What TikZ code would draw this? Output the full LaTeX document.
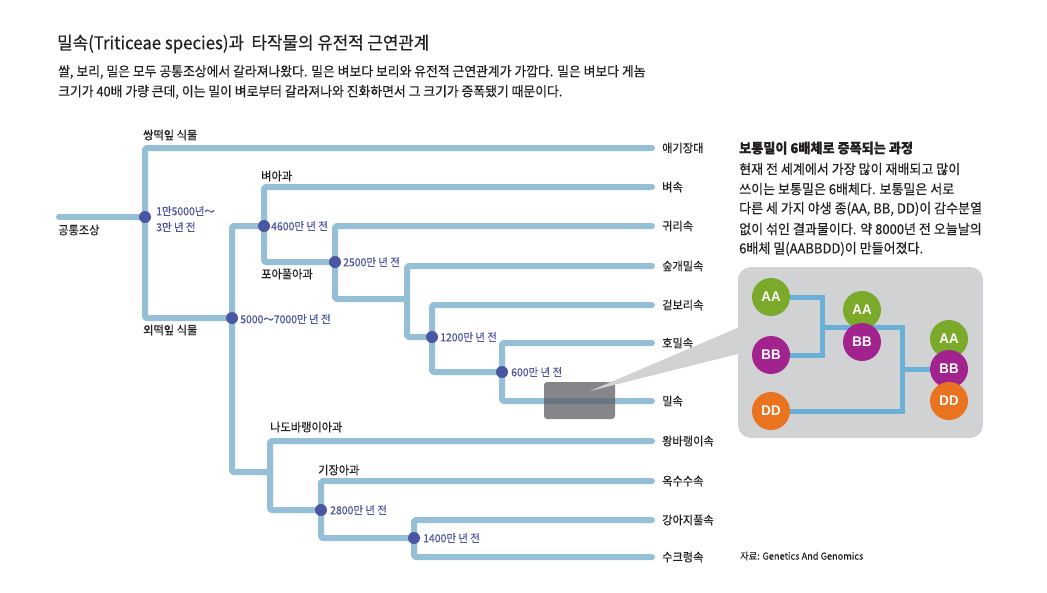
\documentclass[tikz,border=0pt]{standalone}
\usepackage{fontspec}
\setmainfont{Noto Sans CJK KR}[FakeStretch=0.95,FakeBold=0.3]
\newfontfamily\insetfont{Liberation Sans}[FakeStretch=0.95]
\definecolor{linec}{HTML}{94BFD6}
\definecolor{dotc}{HTML}{4A55A3}
\definecolor{labc}{HTML}{4A55A0}
\definecolor{txt}{HTML}{231F20}
\definecolor{boxc}{HTML}{D1D2D4}
\definecolor{inl}{HTML}{6AAFD6}
\definecolor{grn}{HTML}{7BAA2B}
\definecolor{pur}{HTML}{A3238E}
\definecolor{org}{HTML}{E9731E}
\definecolor{rectc}{HTML}{5E5D63}
\begin{document}
\begin{tikzpicture}[x=1pt,y=-1pt,
  branch/.style={draw=linec,line width=6pt,line cap=round,line join=round,rounded corners=2pt},
  dot/.style={circle,fill=dotc,inner sep=0pt,minimum size=12pt},
  lab/.style={anchor=west,inner sep=0pt,text=txt,font=\fontsize{11.8}{13}\selectfont},
  tlab/.style={anchor=west,inner sep=0pt,text=labc,font=\fontsize{11}{13}\selectfont},
  body/.style={anchor=west,inner sep=0pt,text=txt,font=\fontsize{13.7}{15}\selectfont},
  gene/.style={circle,inner sep=0pt,minimum size=38pt,text=white,font=\insetfont\bfseries\fontsize{14}{16}\selectfont},
  inline/.style={draw=inl,line width=5pt}]
\useasboundingbox (0,0) rectangle (1047,592);
\fill[white] (0,0) rectangle (1047,592);

% title and intro
\node[anchor=west,inner sep=0pt,text=txt,font=\fontsize{17.7}{20}\selectfont] (title) at (57,44) {밀속(Triticeae species)과\ \ 타작물의 유전적 근연관계};
\node[body,font=\fontsize{13.5}{15}\selectfont] (intro1) at (58,72) {쌀, 보리, 밀은 모두 공통조상에서 갈라져나왔다. 밀은 벼보다 보리와 유전적 근연관계가 가깝다. 밀은 벼보다 게놈};
\node[body,font=\fontsize{13.5}{15}\selectfont] (intro2) at (58,92) {크기가 40배 가량 큰데, 이는 밀이 벼로부터 갈라져나와 진화하면서 그 크기가 증폭됐기 때문이다.};

% coordinates
\coordinate (r0) at (59,217);
\coordinate (n1) at (145,217);
\coordinate (n2) at (232,318);
\coordinate (n3) at (264,226);
\coordinate (n4) at (335,262);
\coordinate (j2) at (407,299);
\coordinate (n5) at (432,337);
\coordinate (n6) at (502,372);
\coordinate (j1) at (270,472);
\coordinate (n8) at (321,510);
\coordinate (n9) at (414,538);
\coordinate (L1) at (652,148);
\coordinate (L2) at (652,187);
\coordinate (L3) at (652,226);
\coordinate (L4) at (652,266);
\coordinate (L5) at (652,305);
\coordinate (L6) at (652,343);
\coordinate (L7) at (652,401);
\coordinate (L8) at (652,441);
\coordinate (L9) at (652,481);
\coordinate (L10) at (652,520);
\coordinate (L11) at (652,557);

% branches
\draw[branch] (r0) -- (n1);
\draw[branch] (n1) |- (L1);
\draw[branch] (n1) |- (n2);
\draw[branch] (n2) |- (n3);
\draw[branch] (n2) |- (j1);
\draw[branch] (n3) |- (L2);
\draw[branch] (n3) |- (n4);
\draw[branch] (n4) |- (L3);
\draw[branch] (n4) |- (j2);
\draw[branch] (j2) |- (L4);
\draw[branch] (j2) |- (n5);
\draw[branch] (n5) |- (L5);
\draw[branch] (n5) |- (n6);
\draw[branch] (n6) |- (L6);
\draw[branch] (n6) |- (L7);
\draw[branch] (j1) |- (L8);
\draw[branch] (j1) |- (n8);
\draw[branch] (n8) |- (L9);
\draw[branch] (n8) |- (n9);
\draw[branch] (n9) |- (L10);
\draw[branch] (n9) |- (L11);

% dots
\foreach \n in {n1,n2,n3,n4,n5,n6,n8,n9} \node[dot] at (\n) {};

% time labels
\node[tlab] (t1a) at (156,211) {1만5000년～};
\node[tlab] (t1b) at (156,227) {3만 년 전};
\node[tlab] (t2) at (240,319) {5000～7000만 년 전};
\node[tlab] (t3) at (271,226) {4600만 년 전};
\node[tlab] (t4) at (343,262) {2500만 년 전};
\node[tlab] (t5) at (440,337) {1200만 년 전};
\node[tlab] (t6) at (511,372) {600만 년 전};
\node[tlab] (t8) at (330,510) {2800만 년 전};
\node[tlab] (t9) at (423,538) {1400만 년 전};

% group labels
\node[lab] (g0) at (58,230) {공통조상};
\node[lab] (g1) at (143,135) {쌍떡잎 식물};
\node[lab] (g2) at (143,330) {외떡잎 식물};
\node[lab] (g3) at (261,176) {벼아과};
\node[lab] (g4) at (261,274) {포아풀아과};
\node[lab] (g5) at (270,427) {나도바랭이아과};
\node[lab] (g6) at (318,470) {기장아과};

% leaf labels
\node[lab] at (662,148) {애기장대};
\node[lab] at (662,187) {벼속};
\node[lab] at (662,226) {귀리속};
\node[lab] at (662,266) {숲개밀속};
\node[lab] at (662,305) {겉보리속};
\node[lab] at (662,343) {호밀속};
\node[lab] at (662,401) {밀속};
\node[lab] at (662,441) {왕바랭이속};
\node[lab] at (662,481) {옥수수속};
\node[lab] at (662,520) {강아지풀속};
\node[lab] at (662,557) {수크령속};

% highlight rectangle and callout
\fill[rectc,fill opacity=0.75,rounded corners=3pt] (544,382) rectangle (615,419);
\fill[boxc] (590,391) -- (742,326) -- (742,353) -- cycle;

% inset box
\fill[boxc,rounded corners=13pt] (738,267) rectangle (983,438);
\node[anchor=west,inner sep=0pt,text=txt,font=\bfseries\fontsize{13.8}{15}\selectfont] (head) at (739,148) {보통밀이 6배체로 증폭되는 과정};
\node[body] at (739,169) {현재 전 세계에서 가장 많이 재배되고 많이};
\node[body] at (739,189) {쓰이는 보통밀은 6배체다. 보통밀은 서로};
\node[body] at (739,209) {다른 세 가지 야생 종(AA, BB, DD)이 감수분열};
\node[body] at (739,229) {없이 섞인 결과물이다. 약 8000년 전 오늘날의};
\node[body] at (739,249) {6배체 밀(AABBDD)이 만들어졌다.};

\coordinate (a1) at (771,297);
\coordinate (b1) at (771,355);
\coordinate (d1) at (771,411);
\coordinate (a2) at (862,310);
\coordinate (b2) at (862,342);
\coordinate (a3) at (949,339);
\coordinate (b3) at (949,369);
\coordinate (d3) at (949,401);
\coordinate (k1) at (822,327);
\coordinate (k2) at (902,369);

\draw[inline] (a1) -| (k1);
\draw[inline] (b1) -| (k1);
\draw[inline] (k1) -| (k2);
\draw[inline] (d1) -| (k2);
\draw[inline] (k2) -- (b3);

\node[gene,fill=grn] (A1) at (a1) {AA};
\node[gene,fill=pur] (B1) at (b1) {BB};
\node[gene,fill=org] (D1) at (d1) {DD};
\node[gene,fill=grn] (A2) at (a2) {AA};
\node[gene,fill=pur] (B2) at (b2) {BB};
\node[gene,fill=grn] (A3) at (a3) {AA};
\node[gene,fill=pur] (B3) at (b3) {BB};
\node[gene,fill=org] (D3) at (d3) {DD};

\node[anchor=west,inner sep=0pt,text=txt,font=\fontsize{9.7}{11}\selectfont] (src) at (740,556) {자료: Genetics And Genomics};
\end{tikzpicture}
\end{document}
